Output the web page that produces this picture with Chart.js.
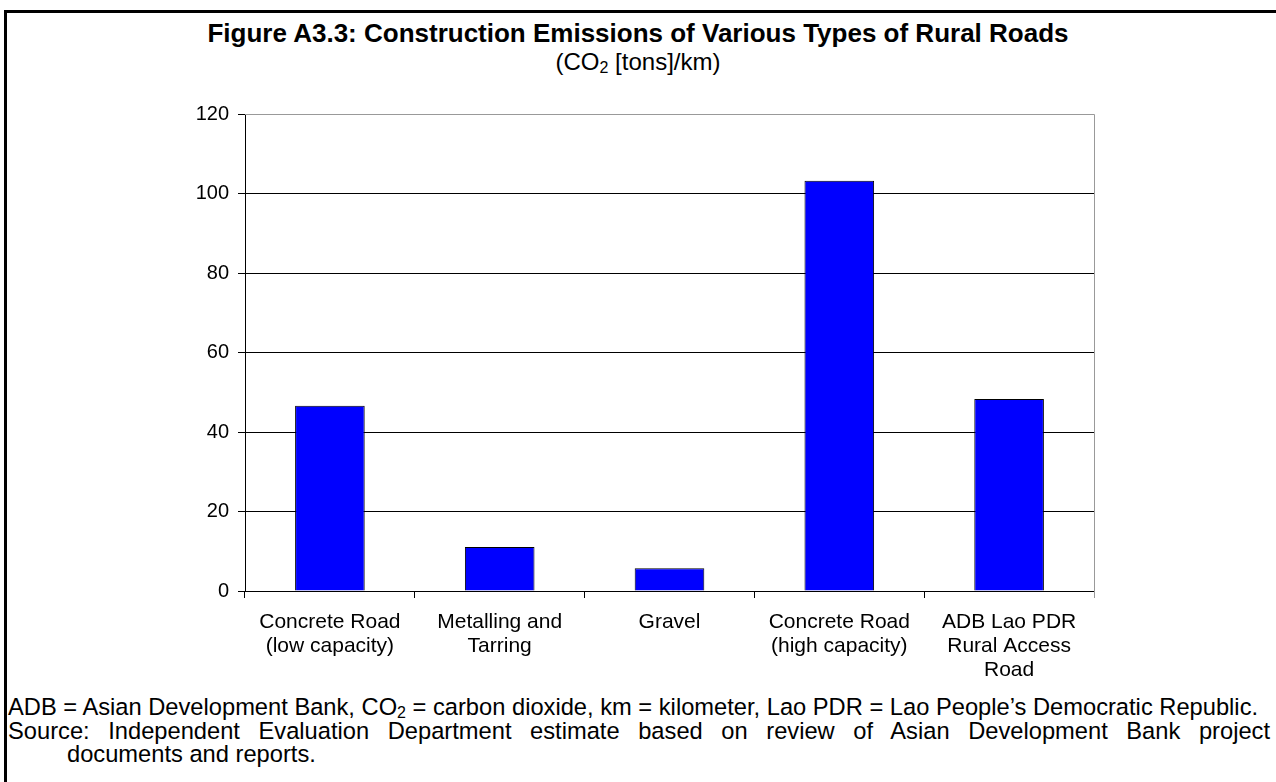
<!DOCTYPE html>
<html lang="en">
<head>
    <meta charset="UTF-8">
    <title>Construction Emissions of Rural Roads</title>
    <script src="https://cdn.jsdelivr.net/npm/chart.js"></script>
    <style>
        body {
            margin: 0;
            background: #fff;
            font-family: "Liberation Sans", Arial, sans-serif;
            color: #000;
            width: 1276px;
            height: 782px;
            overflow: hidden;
            position: relative;
        }
        .frame {
            position: absolute;
            left: 4px;
            top: 10px;
            width: 1400px;
            height: 900px;
            border-left: 3px solid #000;
            border-top: 3px solid #000;
        }
        .title {
            position: absolute;
            left: 0;
            width: 1276px;
            top: 18px;
            text-align: center;
            font-weight: bold;
            font-size: 26px;
            line-height: 30px;
        }
        .subtitle {
            position: absolute;
            left: 0;
            width: 1276px;
            top: 47px;
            text-align: center;
            font-size: 24px;
            line-height: 30px;
        }
        .subtitle sub { font-size: 16px; vertical-align: -3px; line-height: 0; }
        .notes sub { font-size: 16px; vertical-align: -3px; line-height: 0; }
        .chart-box {
            position: absolute;
            left: 0;
            top: 93px;
            width: 1120px;
            height: 587px;
        }
        .notes {
            position: absolute;
            left: 8px;
            font-size: 23.7px;
            line-height: 24px;
            white-space: nowrap;
        }
        .justify {
            white-space: normal;
            width: 1262px;
            text-align: justify;
            text-align-last: justify;
        }
    </style>
</head>
<body>
    <div class="frame"></div>
    <div class="title">Figure A3.3: Construction Emissions of Various Types of Rural Roads</div>
    <div class="subtitle">(CO<sub>2</sub> [tons]/km)</div>
    <div class="chart-box"><canvas id="roadChart"></canvas></div>
    <div class="notes" style="top:695px;">ADB = Asian Development Bank, CO<sub>2</sub> = carbon dioxide, km = kilometer, Lao PDR = Lao People’s Democratic Republic.</div>
    <div class="notes justify" style="top:719px;">Source: Independent Evaluation Department estimate based on review of Asian Development Bank project</div>
    <div class="notes" style="top:742px; left:67px;">documents and reports.</div>

    <script>
        const roadTypes = [
            ['Concrete Road', '(low capacity)'],
            ['Metalling and', 'Tarring'],
            ['Gravel'],
            ['Concrete Road', '(high capacity)'],
            ['ADB Lao PDR', 'Rural Access', 'Road']
        ];
        const emissions = [46.6, 11.1, 5.7, 103.2, 48.3];
        const yTicks = [0, 20, 40, 60, 80, 100, 120];

        // grey frame on top and right of the plot area
        const plotFrame = {
            id: 'plotFrame',
            afterDraw(chart) {
                const a = chart.chartArea;
                const ctx = chart.ctx;
                ctx.save();
                ctx.strokeStyle = '#999';
                ctx.lineWidth = 1;
                ctx.beginPath();
                ctx.moveTo(a.left, a.top + 0.5);
                ctx.lineTo(a.right + 0.5, a.top + 0.5);
                ctx.lineTo(a.right + 0.5, a.bottom + 7);
                ctx.stroke();
                ctx.restore();
            }
        };

        const ctx = document.getElementById('roadChart').getContext('2d');
        new Chart(ctx, {
            type: 'bar',
            data: {
                labels: roadTypes,
                datasets: [{
                    data: emissions,
                    backgroundColor: '#0000ff',
                    borderColor: '#000',
                    borderWidth: 1,
                    barPercentage: 0.41,
                    categoryPercentage: 1
                }]
            },
            options: {
                responsive: true,
                maintainAspectRatio: false,
                animation: false,
                layout: { padding: { top: 7, right: 26, left: 0, bottom: 0 } },
                plugins: {
                    legend: { display: false },
                    tooltip: { enabled: false }
                },
                scales: {
                    y: {
                        min: 0,
                        max: 120,
                        afterBuildTicks: (scale) => {
                            scale.ticks = yTicks.map(v => ({ value: v }));
                        },
                        afterFit: (scale) => { scale.width = 245; },
                        border: { color: '#000', width: 1 },
                        grid: {
                            color: (c) => c.tick && c.tick.value === 120 ? '#999' : '#000',
                            tickColor: '#000',
                            tickLength: 7,
                            lineWidth: 1
                        },
                        ticks: {
                            color: '#000',
                            padding: 9,
                            font: { family: '"Liberation Sans", Arial', size: 20 }
                        }
                    },
                    x: {
                        afterFit: (scale) => { scale.height = 89; },
                        border: { color: '#000', width: 1 },
                        grid: {
                            offset: true,
                            drawOnChartArea: false,
                            tickColor: '#000',
                            tickLength: 7
                        },
                        ticks: {
                            color: '#000',
                            padding: 12,
                            maxRotation: 0,
                            autoSkip: false,
                            font: { family: '"Liberation Sans", Arial', size: 21, lineHeight: 1.15 }
                        }
                    }
                }
            },
            plugins: [plotFrame]
        });
    </script>
</body>
</html>
